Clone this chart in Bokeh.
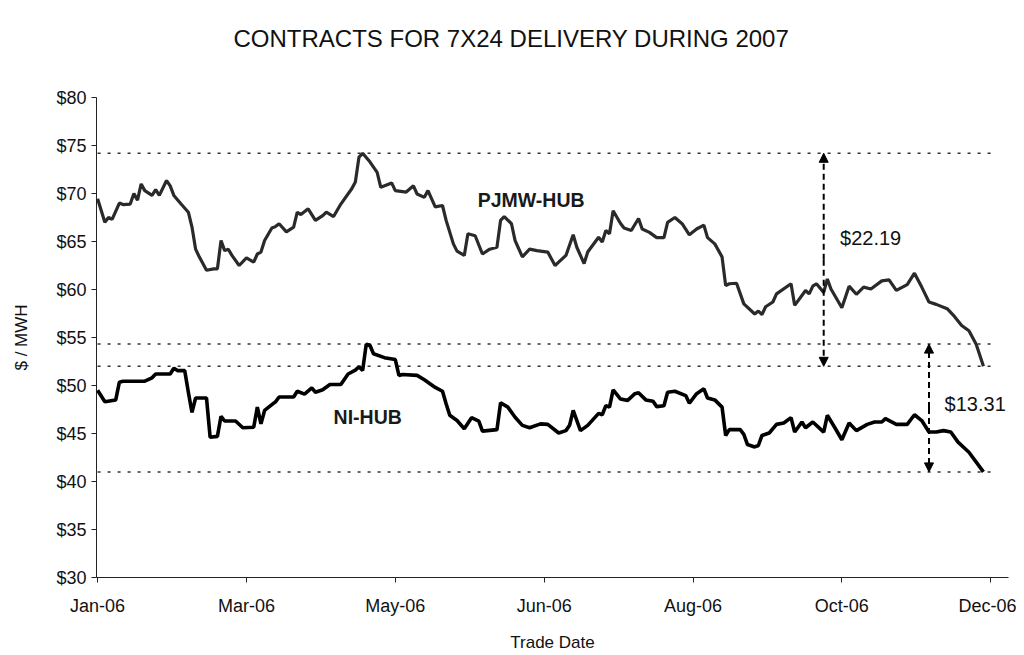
from bokeh.plotting import figure
from bokeh.models import Range1d, FixedTicker, NumeralTickFormatter, Arrow, NormalHead, Label, Title
from bokeh.embed import file_html
from bokeh.resources import INLINE

# ---------------- data ----------------
# trade-day index (0 = first trading day of Jan-06)
pjmw_day = [0, 2, 3, 4, 6, 7, 9, 10, 11, 12, 13, 15, 16, 17, 19, 20, 21, 23, 25, 26,
            27, 28, 30, 32, 33, 34, 35, 36, 37, 39, 41, 43, 44, 45, 46, 48, 49, 50, 52, 54,
            55, 56, 58, 60, 62, 63, 65, 67, 70, 71, 72, 73, 75, 77, 78, 81, 82, 85, 87, 88,
            90, 91, 93, 95, 96, 98, 99, 101, 102, 104, 106, 108, 110, 111, 112, 114, 115, 117, 119, 121,
            124, 126, 127, 129, 131, 132, 134, 135, 138, 139, 140, 141, 142, 144, 145, 147, 149, 150, 152, 154,
            156, 157, 159, 161, 163, 165, 167, 168, 170, 172, 173, 174, 176, 178, 181, 182, 183, 184, 186, 187,
            191, 192, 195, 196, 197, 198, 200, 201, 202, 205, 207, 209, 211, 213, 216, 218, 220, 223, 225, 227,
            229, 231, 234, 236, 238, 240, 242, 244]
pjmw_val = [69.45, 67.0, 67.5, 67.3, 69.0, 68.85, 68.9, 70.0, 69.3, 71.0, 70.3, 69.8, 70.4, 69.8, 71.35, 70.8, 69.8, 68.9, 68.05, 66.5,
            64.2, 63.4, 62.0, 62.15, 62.15, 65.1, 64.05, 64.2, 63.55, 62.5, 63.3, 62.85, 63.7, 63.9, 65.1, 66.4, 66.55, 66.85, 66.0, 66.5,
            68.05, 67.8, 68.4, 67.2, 67.7, 68.05, 67.6, 68.9, 70.5, 71.2, 73.8, 74.19, 73.3, 72.2, 70.65, 71.1, 70.3, 70.15, 70.8, 69.95,
            69.6, 70.3, 68.6, 68.75, 67.2, 64.75, 64.0, 63.55, 65.8, 65.6, 63.7, 64.2, 64.4, 67.2, 67.6, 66.85, 65.1, 63.4, 64.2, 64.05,
            63.9, 62.5, 62.85, 63.55, 65.7, 64.4, 62.7, 63.9, 65.45, 64.95, 66.15, 65.8, 68.2, 66.9, 66.4, 66.15, 67.4, 66.3, 65.95, 65.4,
            65.4, 67.0, 67.5, 66.85, 65.7, 66.3, 66.7, 65.4, 64.75, 63.4, 60.4, 60.6, 60.65, 58.5, 57.45, 57.75, 57.4, 58.2, 58.7, 59.55,
            60.6, 58.35, 59.9, 59.55, 60.35, 60.6, 59.7, 61.1, 60.05, 58.1, 60.35, 59.5, 60.25, 60.05, 60.9, 61.0, 59.9, 60.5, 61.7, 60.25,
            58.7, 58.45, 58.0, 57.2, 56.25, 55.7, 54.3, 52.0]

ni_day = [0, 2, 5, 6, 7, 13, 15, 16, 20, 21, 22, 24, 25, 26, 27, 30, 31, 33, 34, 35,
          38, 40, 43, 44, 45, 46, 48, 49, 50, 54, 55, 57, 59, 60, 62, 64, 67, 69, 71, 72,
          73, 74, 75, 76, 79, 82, 83, 84, 88, 90, 93, 95, 96, 97, 99, 101, 103, 105, 106, 110,
          111, 113, 115, 117, 119, 122, 124, 127, 129, 130, 131, 133, 135, 138, 139, 140, 141, 142, 144, 146,
          148, 149, 151, 153, 154, 156, 157, 159, 162, 163, 165, 167, 168, 170, 172, 173, 174, 177, 178, 179,
          181, 182, 183, 185, 187, 189, 191, 192, 194, 195, 197, 200, 201, 203, 205, 207, 209, 212, 214, 216,
          217, 220, 223, 225, 227, 229, 231, 233, 235, 237, 240, 244]
ni_val = [49.5, 48.3, 48.5, 50.35, 50.45, 50.45, 50.8, 51.2, 51.2, 51.8, 51.55, 51.55, 49.3, 47.2, 48.7, 48.7, 44.6, 44.7, 46.8, 46.3,
          46.3, 45.6, 45.65, 47.75, 46.0, 47.4, 48.0, 48.3, 48.8, 48.8, 49.4, 49.1, 49.75, 49.3, 49.55, 50.1, 50.1, 51.2, 51.6, 51.95,
          51.55, 54.31, 54.2, 53.3, 52.9, 52.7, 51.05, 51.15, 51.05, 50.6, 49.8, 49.4, 48.1, 46.9, 46.35, 45.5, 46.65, 46.3, 45.25, 45.4,
          48.2, 47.75, 46.7, 45.85, 45.6, 46.0, 45.95, 45.05, 45.3, 45.85, 47.4, 45.3, 45.85, 47.1, 46.95, 47.9, 47.75, 49.55, 48.6, 48.45,
          49.15, 49.25, 48.5, 48.35, 47.8, 47.9, 49.3, 49.4, 48.95, 48.15, 49.15, 49.65, 48.7, 48.5, 47.75, 44.8, 45.4, 45.4, 44.9, 43.85,
          43.6, 43.75, 44.8, 45.05, 45.95, 46.1, 46.65, 45.15, 46.2, 45.6, 46.2, 45.15, 46.9, 45.65, 44.35, 46.1, 45.3, 45.95, 46.2, 46.2,
          46.55, 45.95, 45.95, 46.95, 46.35, 45.15, 45.15, 45.3, 45.15, 44.1, 43.05, 41.0]

x_tick_days = [0, 41, 82, 123, 164, 205, 246]
x_tick_labels = ["Jan-06", "Mar-06", "May-06", "Jun-06", "Aug-06", "Oct-06", "Dec-06"]
y_ticks = [30, 35, 40, 45, 50, 55, 60, 65, 70, 75, 80]

series_names = ["PJMW-HUB", "NI-HUB"]
spread_days = [200, 229]          # where the spread arrows are drawn

# ---------------- figure ----------------
FONT = "Liberation Sans"
p = figure(width=1016, height=655, output_backend="svg", toolbar_location=None,
           x_range=Range1d(-0.3, 250.9), y_range=Range1d(30, 80),
           min_border_left=96, min_border_right=8, min_border_top=97, min_border_bottom=78)
p.outline_line_color = None
p.xgrid.grid_line_color = None
p.ygrid.grid_line_color = None
p.background_fill_color = "white"
p.border_fill_color = "white"

# blank spacer between the title and the plot area
p.add_layout(Title(text=" ", text_font=FONT, text_font_size="10px", text_color="white",
                   standoff=26), "above")

p.title.text = "CONTRACTS FOR 7X24 DELIVERY DURING 2007"
p.title.text_font = FONT
p.title.text_font_size = "24px"
p.title.text_font_style = "normal"
p.title.text_color = "#111111"
p.title.align = "left"
p.title.vertical_align = "top"
p.title.offset = 137
p.title.standoff = 10

for ax in (p.xaxis[0], p.yaxis[0]):
    ax.axis_line_color = "#222222"
    ax.major_tick_line_color = "#222222"
    ax.major_tick_out = 5
    ax.major_tick_in = 0
    ax.minor_tick_line_color = None
    ax.major_label_text_font = FONT
    ax.major_label_text_font_size = "18px"
    ax.major_label_text_color = "#111111"
    ax.axis_label_text_font = FONT
    ax.axis_label_text_font_size = "17px"
    ax.axis_label_text_font_style = "normal"
    ax.axis_label_text_color = "#111111"

p.xaxis.ticker = FixedTicker(ticks=x_tick_days)
p.xaxis.major_label_overrides = {d: l for d, l in zip(x_tick_days, x_tick_labels)}
p.xaxis.major_label_standoff = 13
p.xaxis.axis_label = "Trade Date"
p.xaxis.axis_label_standoff = 14

p.yaxis.ticker = FixedTicker(ticks=y_ticks)
p.yaxis.formatter = NumeralTickFormatter(format="$0")
p.yaxis.major_label_standoff = 5
p.yaxis.axis_label = "$ / MWH"
p.yaxis.axis_label_standoff = 22

# reference levels (max / last value of each series)
pj_max, pj_end = max(pjmw_val), pjmw_val[-1]
ni_max, ni_end = max(ni_val), ni_val[-1]
levels = [pj_max, ni_max, pj_end, ni_end]
p.segment(x0=[x_tick_days[0]] * 4, x1=[x_tick_days[-1]] * 4, y0=levels, y1=levels,
          line_color="#333333", line_width=1.5, line_dash="3 7")

# series
p.line(pjmw_day, pjmw_val, line_color="#2a2a2a", line_width=3.2)
p.line(ni_day, ni_val, line_color="#000000", line_width=3.6)

# spread arrows
for xd, top, bot in [(spread_days[0], pj_max, pj_end), (spread_days[1], ni_max, ni_end)]:
    for tip in (top, bot):
        p.add_layout(Arrow(x_start=xd, y_start=(top + bot) / 2, x_end=xd, y_end=tip,
                           line_color="black", line_width=2, line_dash="6 4",
                           start=None,
                           end=NormalHead(size=9, fill_color="black", line_color="black", line_width=1)))

p.add_layout(Label(x=204.5, y=65.4, text=f"${pj_max - pj_end:.2f}", text_font=FONT,
                   text_font_size="20px", text_baseline="middle", text_color="#111111"))
p.add_layout(Label(x=233.3, y=48.1, text=f"${ni_max - ni_end:.2f}", text_font=FONT,
                   text_font_size="20px", text_baseline="middle", text_color="#111111"))

p.add_layout(Label(x=104.7, y=69.3, text=series_names[0], text_font=FONT, text_font_style="bold",
                   text_font_size="19.5px", text_baseline="middle", text_color="#1a1a1a"))
p.add_layout(Label(x=65.0, y=46.7, text=series_names[1], text_font=FONT, text_font_style="bold",
                   text_font_size="19.5px", text_baseline="middle", text_color="#1a1a1a"))

open("out.html", "w").write(file_html(p, INLINE))
